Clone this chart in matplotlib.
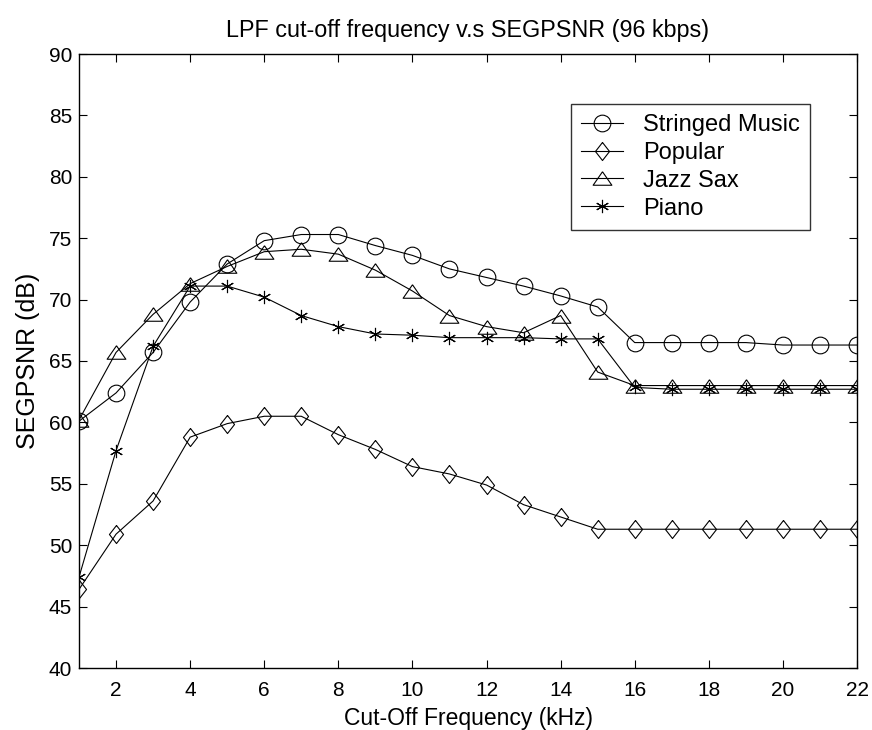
import matplotlib
matplotlib.use("Agg")
import matplotlib.pyplot as plt
import numpy as np

plt.rcParams['font.family'] = ['Liberation Sans', 'DejaVu Sans']

freq = [1, 2, 3, 4, 5, 6, 7, 8, 9, 10, 11, 12, 13, 14, 15, 16, 17, 18, 19, 20, 21, 22]
stringed = [60.1, 62.4, 65.7, 69.8, 72.9, 74.8, 75.3, 75.3, 74.4, 73.6, 72.5, 71.8, 71.1, 70.3, 69.4,
            66.5, 66.5, 66.5, 66.5, 66.3, 66.3, 66.3]
popular = [46.4, 50.9, 53.6, 58.8, 59.9, 60.5, 60.5, 59.0, 57.8, 56.4, 55.8, 54.9, 53.3, 52.3, 51.3,
           51.3, 51.3, 51.3, 51.3, 51.3, 51.3, 51.3]
jazz = [60.2, 65.7, 68.8, 71.3, 72.7, 73.9, 74.1, 73.7, 72.4, 70.7, 68.7, 67.8, 67.3, 68.7, 64.1,
        63.0, 63.0, 63.0, 63.0, 63.0, 63.0, 63.0]
piano = [47.4, 57.7, 66.2, 71.1, 71.1, 70.2, 68.7, 67.8, 67.2, 67.1, 66.9, 66.9, 66.9, 66.8, 66.8,
         62.85, 62.7, 62.7, 62.7, 62.7, 62.7, 62.7]
labels = ['Stringed Music', 'Popular', 'Jazz Sax', 'Piano']
title = 'LPF cut-off frequency v.s SEGPSNR (96 kbps)'
xlabel = 'Cut-Off Frequency (kHz)'
ylabel = 'SEGPSNR (dB)'
xticks = [2, 4, 6, 8, 10, 12, 14, 16, 18, 20, 22]
yticks = [40, 45, 50, 55, 60, 65, 70, 75, 80, 85, 90]

fig = plt.figure(figsize=(8.72, 7.30), dpi=100)
ax = fig.add_axes([79/872, 1-668/730, (857-79)/872, (668-54)/730])

diamond = [(0, 1), (0.78, 0), (0, -1), (-0.78, 0), (0, 1)]
tri = [(0, 0.72), (1, -0.72), (-1, -0.72), (0, 0.72)]

common = dict(color='black', linewidth=0.8, markerfacecolor='none', markeredgecolor='black',
              markeredgewidth=0.8)
ax.plot(freq, stringed, marker='o', markersize=12, label=labels[0], **common)
ax.plot(freq, popular, marker=diamond, markersize=13, label=labels[1], **common)
ax.plot(freq, jazz, marker=tri, markersize=13.5, label=labels[2], **common)
ax.plot(freq, piano, marker=(6, 2, 0), markersize=9.5, label=labels[3], **common)

ax.set_xlim(1, 22)
ax.set_ylim(40, 90)
ax.set_xticks(xticks)
ax.set_yticks(yticks)
ax.tick_params(direction='in', top=True, right=True, length=6, width=0.8,
               labelsize=15, colors='black')
ax.tick_params(axis='x', pad=9)
ax.tick_params(axis='y', pad=5)
for s in ax.spines.values():
    s.set_linewidth(1.0)
    s.set_color('black')

ax.set_title(title, fontsize=16.8, pad=12)
ax.set_xlabel(xlabel, fontsize=16.5, labelpad=5.5)
ax.set_ylabel(ylabel, fontsize=18, labelpad=6)

leg = ax.legend(loc='upper right', bbox_to_anchor=(810/872, 1-104/730),
                bbox_transform=fig.transFigure, borderaxespad=0, fancybox=False,
                fontsize=17, handlelength=1.8, labelspacing=0.25, borderpad=0.42,
                handletextpad=0.85)
leg.get_frame().set_edgecolor('black')
leg.get_frame().set_linewidth(1.0)

fig.savefig('out.png', dpi=100)
